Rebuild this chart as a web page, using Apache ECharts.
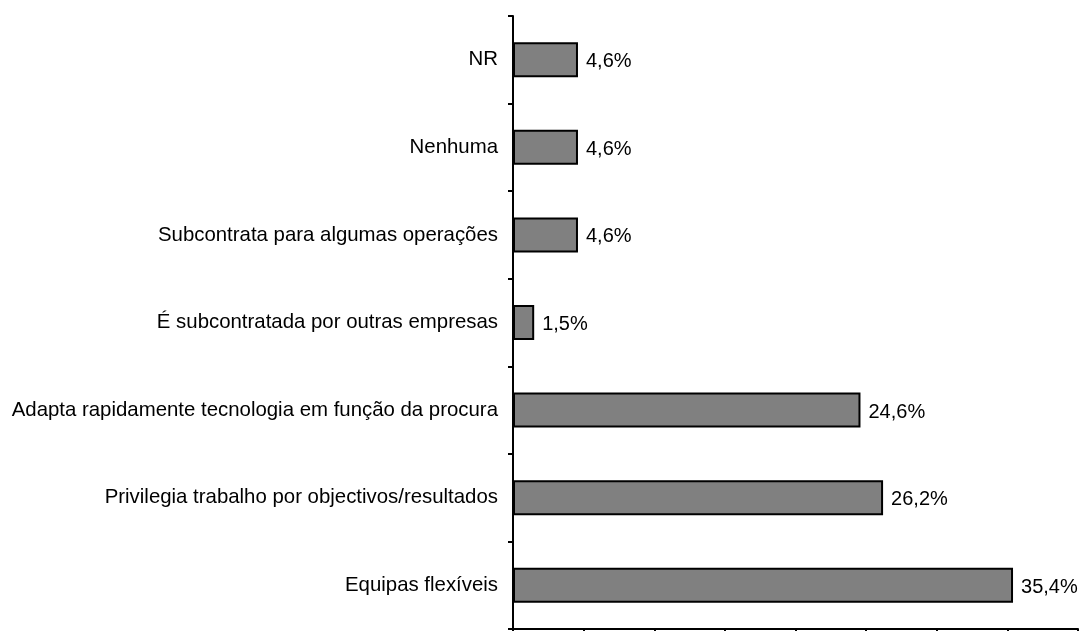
<!DOCTYPE html>
<html>
<head>
<meta charset="utf-8">
<script src="https://cdn.jsdelivr.net/npm/echarts@6/dist/echarts.min.js"></script>
<style>
  html, body { margin: 0; padding: 0; background: #fff; }
  #main { width: 1083px; height: 631px; }
</style>
</head>
<body>
<div id="main"></div>
<script>
// categories listed from bottom to top
var categories = [
    'Equipas flexíveis',
    'Privilegia trabalho por objectivos/resultados',
    'Adapta rapidamente tecnologia em função da procura',
    'É subcontratada por outras empresas',
    'Subcontrata para algumas operações',
    'Nenhuma',
    'NR'
];
var values = [35.4, 26.2, 24.6, 1.5, 4.6, 4.6, 4.6];

var chart = echarts.init(document.getElementById('main'));

var option = {
    animation: false,
    textStyle: { fontFamily: 'Liberation Sans, Arial, sans-serif' },
    grid: { left: 513, right: 5, top: 16, bottom: 2, containLabel: false },
    xAxis: {
        type: 'value',
        min: 0,
        max: 40,
        interval: 5,
        axisLabel: { show: false },
        splitLine: { show: false },
        axisLine: { show: true, lineStyle: { color: '#000', width: 2 } },
        axisTick: { show: true, length: 6, lineStyle: { color: '#000', width: 2 } }
    },
    yAxis: {
        type: 'category',
        data: categories,
        axisLine: { show: true, lineStyle: { color: '#000', width: 2 } },
        axisTick: { show: true, length: 5, lineStyle: { color: '#000', width: 2 } },
        axisLabel: { color: '#000', fontSize: 20.4, margin: 15, padding: [4, 0, 0, 0] }
    },
    series: [{
        type: 'bar',
        data: values,
        barWidth: '40%',
        itemStyle: { color: '#808080', borderColor: '#000', borderWidth: 2 },
        label: {
            show: true,
            position: 'right',
            distance: 8,
            color: '#000',
            fontSize: 20,
            offset: [0, 2],
            formatter: function (p) {
                return p.value.toFixed(1).replace('.', ',') + '%';
            }
        }
    }]
};

chart.setOption(option);
</script>
</body>
</html>
